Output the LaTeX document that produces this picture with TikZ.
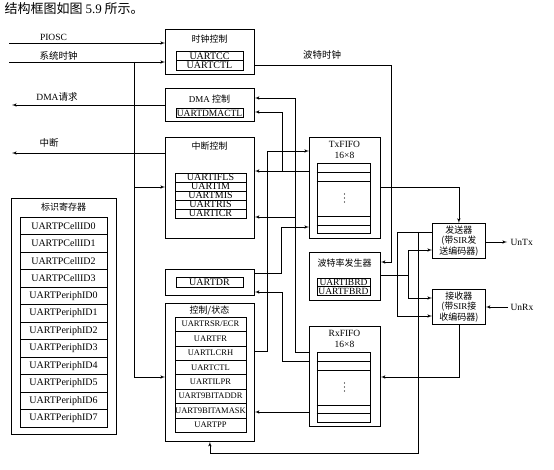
\documentclass[tikz,border=0pt]{standalone}
\usepackage{fontspec}
\setmainfont{Liberation Serif}
\newfontfamily\cjk{Noto Sans CJK SC}
\usetikzlibrary{arrows}

\begin{document}
\begin{tikzpicture}[x=1pt,y=-1pt,>=latex',semithick]
\tikzstyle{blk}=[draw, anchor=north west, inner sep=0pt, line width=0.8pt]
\tikzstyle{reg}=[draw, inner sep=0pt, font=\fontsize{10}{10}\selectfont]
\tikzstyle{idreg}=[reg, minimum width=87pt, minimum height=17.5pt]
\tikzstyle{ctreg}=[reg, minimum width=71pt, minimum height=14.4pt, font=\fontsize{8.5}{8.5}\selectfont]
\tikzstyle{inreg}=[reg, minimum width=71pt, minimum height=9pt]
\tikzstyle{title}=[font=\cjk\fontsize{9}{9}\selectfont]
\tikzstyle{lbl}=[font=\cjk\fontsize{9.5}{9.5}\selectfont]
\tikzstyle{eng}=[font=\fontsize{9.5}{9.5}\selectfont]
\useasboundingbox (0,0) rectangle (554,470);

\node[anchor=west, font=\cjk\fontsize{13}{13}\selectfont] (cap) at (1,9) {结构框图如图 {\rmfamily 5.9} 所示。};

% clock control
\node[blk, minimum width=89pt, minimum height=45pt] (clk) at (165,29) {};
\node[title] (clkt) at (209.5,39) {时钟控制};
\node[reg, minimum width=67pt, minimum height=9.5pt] (cc) at (209.5,56) {UARTCC};
\node[reg, minimum width=67pt, minimum height=9.5pt, below of=cc, node distance=9.5pt] (cctl) {UARTCTL};

% DMA control
\node[blk, minimum width=89pt, minimum height=33pt] (dma) at (165,88) {};
\node[title] (dmat) at (209.5,99) {{\rmfamily DMA} 控制};
\node[reg, line width=1pt, minimum width=67pt, minimum height=9pt, font=\fontsize{9.5}{9.5}\selectfont] (dmactl) at (209.5,113.5) {UARTDMACTL};

% interrupt control
\node[blk, minimum width=89pt, minimum height=101pt] (intr) at (165,137) {};
\node[title] (intrt) at (209.5,146) {中断控制};
\node[inreg] (ifls) at (210.5,177.5) {UARTIFLS};
\node[inreg, below of=ifls, node distance=9pt] (im) {UARTIM};
\node[inreg, below of=im, node distance=9pt] (mis) {UARTMIS};
\node[inreg, below of=mis, node distance=9pt] (ris) {UARTRIS};
\node[inreg, below of=ris, node distance=9pt] (icr) {UARTICR};

% identification registers
\node[blk, minimum width=105pt, minimum height=236pt] (ident) at (11,198) {};
\node[title] (identt) at (63.5,207) {标识寄存器};
\node[idreg] (pc0) at (63.5,225.75) {UARTPCellID0};
\node[idreg, below of=pc0, node distance=17.5pt] (pc1) {UARTPCellID1};
\node[idreg, below of=pc1, node distance=17.5pt] (pc2) {UARTPCellID2};
\node[idreg, below of=pc2, node distance=17.5pt] (pc3) {UARTPCellID3};
\node[idreg, below of=pc3, node distance=17.5pt] (pp0) {UARTPeriphID0};
\node[idreg, below of=pp0, node distance=17.5pt] (pp1) {UARTPeriphID1};
\node[idreg, below of=pp1, node distance=17.5pt] (pp2) {UARTPeriphID2};
\node[idreg, below of=pp2, node distance=17.5pt] (pp3) {UARTPeriphID3};
\node[idreg, below of=pp3, node distance=17.5pt] (pp4) {UARTPeriphID4};
\node[idreg, below of=pp4, node distance=17.5pt] (pp5) {UARTPeriphID5};
\node[idreg, below of=pp5, node distance=17.5pt] (pp6) {UARTPeriphID6};
\node[idreg, below of=pp6, node distance=17.5pt] (pp7) {UARTPeriphID7};

% data register
\node[blk, minimum width=89pt, minimum height=26pt] (drb) at (165,269) {};
\node[reg, minimum width=67pt, minimum height=10pt] (dr) at (209.5,282) {UARTDR};

% control / status
\node[blk, minimum width=89pt, minimum height=138pt] (ctrl) at (165,303) {};
\node[title] (ctrlt) at (209.5,311) {控制/状态};
\node[ctreg] (rsr) at (210.5,324.2) {UARTRSR/ECR};
\node[ctreg, below of=rsr, node distance=14.4pt] (fr) {UARTFR};
\node[ctreg, below of=fr, node distance=14.4pt] (lcrh) {UARTLCRH};
\node[ctreg, below of=lcrh, node distance=14.4pt] (ctl) {UARTCTL};
\node[ctreg, below of=ctl, node distance=14.4pt] (ilpr) {UARTILPR};
\node[ctreg, below of=ilpr, node distance=14.4pt] (addr) {UART9BITADDR};
\node[ctreg, below of=addr, node distance=14.4pt] (amask) {UART9BITAMASK};
\node[ctreg, below of=amask, node distance=14.4pt] (pp) {UARTPP};

% TxFIFO
\node[blk, minimum width=71pt, minimum height=101pt] (txf) at (309,137) {};
\node[eng] (txft) at (344.5,144.5) {TxFIFO};
\node[eng] (txfn) at (344.5,155.5) {16×8};
\node[draw, inner sep=0pt, minimum width=53pt, minimum height=70pt] (txin) at (343.5,198) {};
\draw (txin.west |- 0,172) -- (txin.east |- 0,172);
\draw (txin.west |- 0,181) -- (txin.east |- 0,181);
\draw (txin.west |- 0,216) -- (txin.east |- 0,216);
\draw (txin.west |- 0,225) -- (txin.east |- 0,225);
\fill ([xshift=1pt]txin.center) ++(0,-4) circle (0.7) ++(0,4) circle (0.7) ++(0,4) circle (0.7);

% baud rate generator
\node[blk, minimum width=71pt, minimum height=48pt] (baud) at (309,252) {};
\node[title] (baudt) at (344.5,263) {波特率发生器};
\node[reg, line width=1pt, minimum width=53pt, minimum height=8.5pt, font=\fontsize{9.5}{9.5}\selectfont] (ibrd) at (343.5,282.5) {UARTIBRD};
\node[reg, line width=1pt, minimum width=53pt, minimum height=8.5pt, font=\fontsize{9.5}{9.5}\selectfont, below of=ibrd, node distance=8.5pt] (fbrd) {UARTFBRD};

% RxFIFO
\node[blk, minimum width=71pt, minimum height=100pt] (rxf) at (309,326) {};
\node[eng] (rxft) at (344.5,333.5) {RxFIFO};
\node[eng] (rxfn) at (344.5,344.5) {16×8};
\node[draw, inner sep=0pt, minimum width=53pt, minimum height=70pt] (rxin) at (343.5,387) {};
\draw (rxin.west |- 0,361) -- (rxin.east |- 0,361);
\draw (rxin.west |- 0,370) -- (rxin.east |- 0,370);
\draw (rxin.west |- 0,405) -- (rxin.east |- 0,405);
\draw (rxin.west |- 0,413) -- (rxin.east |- 0,413);
\fill ([xshift=1pt]rxin.center) ++(0,-4) circle (0.7) ++(0,4) circle (0.7) ++(0,4) circle (0.7);

% transmitter and receiver
\node[blk, minimum width=53pt, minimum height=35pt, align=center, font=\cjk\fontsize{9}{10.5}\selectfont] (tx) at (432,223) {发送器\\(带{\rmfamily SIR}发\\送编码器)};
\node[blk, minimum width=53pt, minimum height=35pt, align=center, font=\cjk\fontsize{9}{10.5}\selectfont] (rx) at (432,289) {接收器\\(带{\rmfamily SIR}接\\收编码器)};

% free ends and labels
\coordinate (pin) at (9,43);
\coordinate (sin) at (9,62);
\coordinate (dout) at (12,105);
\coordinate (iout) at (12,153);
\coordinate (untx) at (507,242);
\coordinate (unrx) at (508,307);
\node[eng] (pioscl) at (53.5,37) {PIOSC};
\node[lbl] (sysl) at (58.5,56) {系统时钟};
\node[lbl] (dmal) at (57,97) {{\rmfamily DMA}请求};
\node[lbl] (intl) at (49,143) {中断};
\node[lbl] (bclkl) at (322,55) {波特时钟};
\node[eng, anchor=west] (untxl) at (507,242) {UnTx};
\node[eng, anchor=west] (unrxl) at (507,307) {UnRx};

% clocks
\draw[->] (pin) -- (clk.west |- pin);
\draw[->] (sin) -- (clk.west |- sin);
\draw[->] (134,62) |- (ctrl.west |- 0,377);
\draw[->] (134,187) -- (intr.west |- 0,187);
\draw[->] (clk.east |- 0,65) -| (391,262) -- (baud.east |- 0,262);

% requests out
\draw[->] (dma.west |- dout) -- (dout);
\draw[->] (intr.west |- iout) -- (iout);

% FIFO status to DMA / interrupt
\draw[->] (txf.west |- 0,171) -- (intr.east |- 0,171);
\draw[->] (282,171) |- (dma.east |- 0,112);
\draw[->] (rxf.west |- 0,352) -| (295,98) -- (dma.east |- 0,98);
\draw[->] (295,217) -- (intr.east |- 0,217);

% data paths
\draw[->] (ctrl.east |- 0,351) -| (267,151) -- (txf.west |- 0,151);
\draw[->] (drb.east |- 0,273) -| (281,227) -- (txf.west |- 0,227);
\draw[->] (rxf.west |- 0,361) -| (282,292) -- (drb.east |- 0,292);
\draw[->] (rxf.west |- 0,412) -- (ctrl.east |- 0,412);
\draw[->] (txf.east |- 0,187) -| (tx.north);
\draw[->] (rx.south) |- (rxf.east |- 0,377);

% baud rate
\draw (baud.east |- 0,275) -- (408,275);
\draw[->] (408,275) |- (tx.west |- 0,250);
\draw[->] (408,275) |- (rx.west |- 0,298);

% loop back and status
\draw[->] (tx.west |- 0,232) -| (397,316) -- (rx.west |- 0,316);
\draw[->] (418,232) -- (418,453) -| (ctrl.south);

% pins
\draw[->] (tx.east |- untx) -- (untx);
\draw[->] (unrx) -- (rx.east |- unrx);
\end{tikzpicture}
\end{document}
